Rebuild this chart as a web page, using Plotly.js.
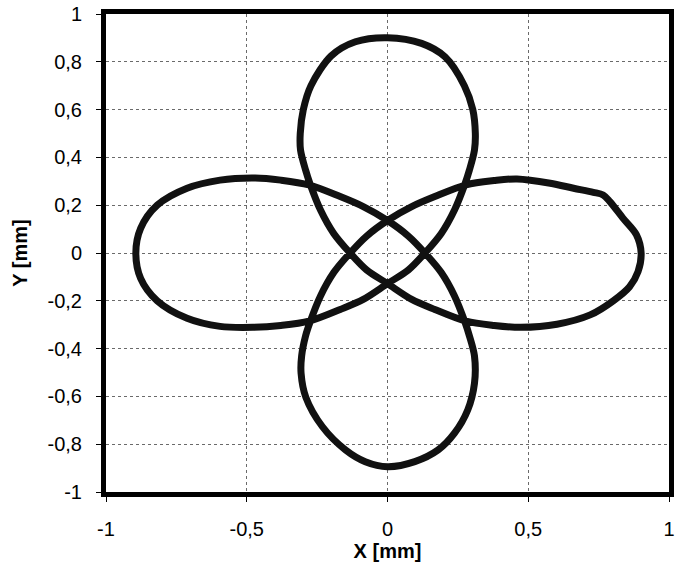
<!DOCTYPE html>
<html>
<head>
<meta charset="utf-8">
<script src="https://cdn.plot.ly/plotly-3.0.1.min.js"></script>
<style>
  html, body { margin: 0; padding: 0; background: #ffffff; }
  #chart { width: 676px; height: 570px; }
</style>
</head>
<body>
<div id="chart"></div>
<script>
// Measured tool path (mm), one closed loop through the four lobes.
const pathX = [
  0, 0.121, 0.205, 0.273, 0.303, 0.312, 0.309,
  0.291, 0.276, 0.238, 0.191, 0.133, 0.074, 0, -0.086, -0.168, -0.279, -0.379,
  -0.478, -0.595, -0.712, -0.818, -0.877, -0.894, -0.877, -0.818, -0.712, -0.595, -0.47,
  -0.379, -0.279, -0.168, -0.086, 0, 0.074, 0.133, 0.191, 0.238, 0.276, 0.291, 0.309,
  0.309, 0.285, 0.238, 0.18, 0.097, 0, -0.079, -0.149, -0.231, -0.29, -0.307, -0.305,
  -0.291, -0.276, -0.238, -0.191, -0.133, -0.074, 0, 0.086, 0.168, 0.279, 0.379,
  0.46, 0.578, 0.661, 0.731, 0.766, 0.79, 0.837, 0.884, 0.901, 0.89, 0.86, 0.802, 0.72, 0.602, 0.473, 0.379,
  0.279, 0.168, 0.086, 0, -0.074, -0.133, -0.191, -0.238, -0.276, -0.291, -0.309,
  -0.31, -0.299, -0.272, -0.2, -0.114, 0
];
const pathY = [
  0.901, 0.877, 0.82, 0.7, 0.6, 0.5, 0.431,
  0.347, 0.292, 0.18, 0.082, 0, -0.071, -0.128, -0.194, -0.236, -0.285, -0.303,
  -0.311, -0.307, -0.273, -0.2, -0.106, 0, 0.103, 0.2, 0.271, 0.305, 0.314,
  0.305, 0.285, 0.236, 0.194, 0.136, 0.071, 0, -0.082, -0.18, -0.292, -0.347, -0.431,
  -0.545, -0.657, -0.754, -0.824, -0.873, -0.894, -0.873, -0.824, -0.727, -0.604, -0.503, -0.431,
  -0.347, -0.292, -0.18, -0.082, 0, 0.071, 0.136, 0.194, 0.236, 0.285, 0.303,
  0.31, 0.292, 0.271, 0.254, 0.243, 0.215, 0.145, 0.077, 0, -0.078, -0.141, -0.2, -0.259, -0.298, -0.311, -0.303,
  -0.285, -0.236, -0.194, -0.128, -0.071, 0, 0.082, 0.18, 0.292, 0.347, 0.431,
  0.5, 0.6, 0.7, 0.825, 0.884, 0.901
];

// Axis ticks and their labels (decimal comma)
const xTickVals = [-1, -0.5, 0, 0.5, 1];
const xTickText = ['-1', '-0,5', '0', '0,5', '1'];
const yTickVals = [-1, -0.8, -0.6, -0.4, -0.2, 0, 0.2, 0.4, 0.6, 0.8, 1];
const yTickText = ['-1', '-0,8', '-0,6', '-0,4', '-0,2', '0', '0,2', '0,4', '0,6', '0,8', '1'];

const xTitle = 'X [mm]';
const yTitle = 'Y [mm]';

const fontFamily = 'Liberation Sans, Arial, sans-serif';

const trace = {
  x: pathX,
  y: pathY,
  type: 'scatter',
  mode: 'lines',
  line: { color: '#111111', width: 7, shape: 'spline', smoothing: 0.9 },
  hoverinfo: 'skip'
};

const axisCommon = {
  showline: true,
  linecolor: '#000000',
  linewidth: 5,
  mirror: true,
  ticks: 'outside',
  ticklen: 5,
  tickwidth: 1,
  tickcolor: '#000000',
  showgrid: true,
  gridcolor: '#6a6a6a',
  gridwidth: 1,
  griddash: 'dot',
  zeroline: false,
  tickmode: 'array',
  ticklabeloverflow: 'allow',
  ticklabelstandoff: 10,
  tickfont: { family: fontFamily, size: 20, color: '#000000' }
};

const layout = {
  width: 676,
  height: 570,
  margin: { l: 106, r: 7, t: 14, b: 78 },
  paper_bgcolor: '#ffffff',
  plot_bgcolor: '#ffffff',
  showlegend: false,
  xaxis: Object.assign({}, axisCommon, {
    range: [-1, 1],
    tickvals: xTickVals,
    ticktext: xTickText,
    title: { text: '<b>' + xTitle + '</b>', font: { family: fontFamily, size: 20, color: '#000000' }, standoff: 6 }
  }),
  yaxis: Object.assign({}, axisCommon, {
    range: [-1, 1],
    tickvals: yTickVals,
    ticktext: yTickText,
    title: { text: '<b>' + yTitle + '</b>', font: { family: fontFamily, size: 20, color: '#000000' }, standoff: 16 }
  })
};

Plotly.newPlot('chart', [trace], layout, { displayModeBar: false, staticPlot: true });
</script>
</body>
</html>
